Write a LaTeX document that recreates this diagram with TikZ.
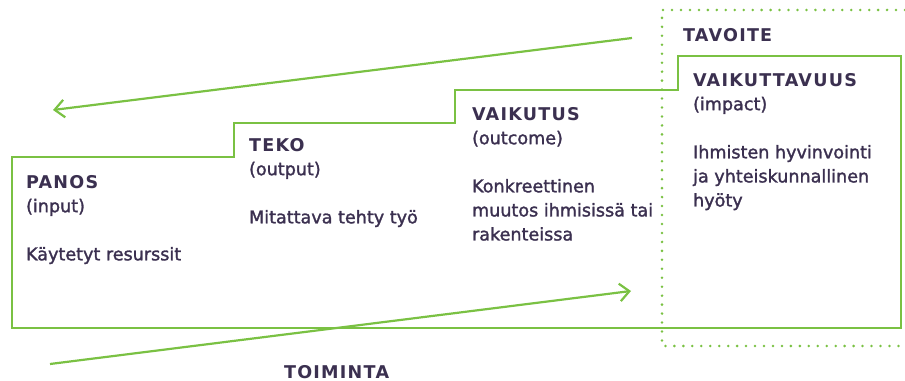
\documentclass[tikz,border=0pt]{standalone}
\usepackage{fontspec}
\setmainfont{DejaVu Sans}[FakeBold=1.6, BoldFont={DejaVu Sans Bold}, BoldFeatures={FakeBold=0}]
\usetikzlibrary{arrows.meta, positioning}
\definecolor{leafgreen}{HTML}{7AC143}
\definecolor{inkviolet}{HTML}{3B3050}
\newcommand{\stagehead}[1]{{\bfseries\addfontfeatures{LetterSpace=7}#1}}

\begin{document}
\begin{tikzpicture}[x=0.02cm, y=-0.02cm, line width=1.25pt,
        stage/.style={anchor=north west, align=left, inner sep=0pt, text=inkviolet,
                      font=\fontsize{10}{13.7}\selectfont},
        flow/.style={draw=leafgreen, -{Straight Barb[length=5.5pt, width=10pt]}},
        goalframe/.style={draw=leafgreen, line width=1.6pt, line cap=round, dash pattern=on 0pt off 5.1pt}]
        \useasboundingbox (0,0) rectangle (905,381);

        \draw[leafgreen] (12,328) -- (12,157) -- (234,157) -- (234,123) -- (455,123)
            -- (455,90) -- (678,90) -- (678,56) -- (901,56) -- (901,328) -- cycle;
        \draw[goalframe] (905,10) -| (662,346) -- (905,346);

        \node[stage] (panos)   at (25,174)  {\stagehead{PANOS}\\(input)\\[13.7pt]Käytetyt resurssit};
        \node[stage] (teko)    at (248,137) {\stagehead{TEKO}\\(output)\\[13.7pt]Mitattava tehty työ};
        \node[stage] (vaikutus) at (471,106) {\stagehead{VAIKUTUS}\\(outcome)\\[13.7pt]Konkreettinen\\muutos ihmisissä tai\\rakenteissa};
        \node[stage] (vaikuttavuus) at (692,72) {\stagehead{VAIKUTTAVUUS}\\(impact)\\[13.7pt]Ihmisten hyvinvointi\\ja yhteiskunnallinen\\hyöty};
        \node[stage] (tavoite)  at (682,27)  {\stagehead{TAVOITE}};
        \node[stage, anchor=base west] (toiminta) at (283,378) {\stagehead{TOIMINTA}};

        \coordinate (back-start) at (632,38);
        \coordinate (back-end)   at (53,110);
        \coordinate (run-start)  at (50,364);
        \coordinate (run-end)    at (631,291);

        \path
        (back-start) edge[flow] (back-end)
        (run-start)  edge[flow] (run-end);
\end{tikzpicture}
\end{document}
